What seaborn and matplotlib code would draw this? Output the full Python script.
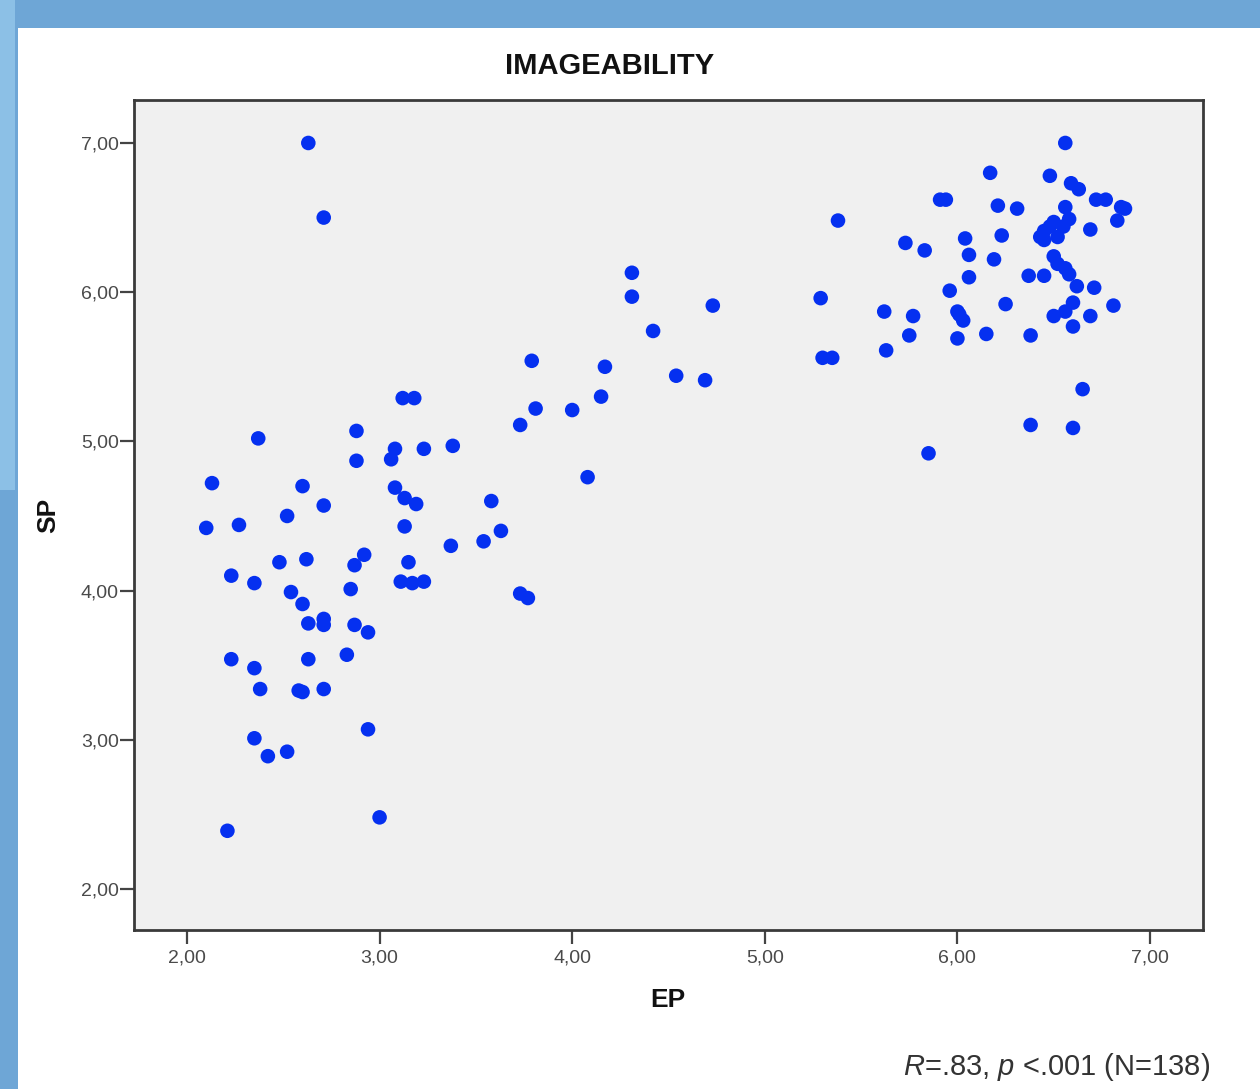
import matplotlib
matplotlib.use("Agg")
import matplotlib.pyplot as plt
import matplotlib.patches as mpatches
from matplotlib.ticker import FuncFormatter, FixedLocator
import seaborn as sns
import pandas as pd

# ---- data (EP, SP) ----
ep_left = [2.63, 2.71, 3.12, 3.18, 2.37, 2.88, 2.88, 3.08, 3.06, 3.23, 3.38, 2.13, 2.60, 2.71, 2.52,
           2.10, 2.27, 3.08, 3.13, 3.19, 3.13, 3.37, 3.58, 3.63, 3.54, 2.48, 2.62, 2.92, 2.87, 3.15,
           2.23, 2.35, 2.85, 3.11, 3.17, 3.23, 2.54, 2.60, 2.63, 2.71, 2.71, 2.87, 2.94, 2.23, 2.35,
           2.63, 2.83, 2.38, 2.58, 2.60, 2.71, 2.94, 2.35, 2.42, 2.52, 3.00, 2.21]
sp_left = [7.00, 6.50, 5.29, 5.29, 5.02, 5.07, 4.87, 4.95, 4.88, 4.95, 4.97, 4.72, 4.70, 4.57, 4.50,
           4.42, 4.44, 4.69, 4.62, 4.58, 4.43, 4.30, 4.60, 4.40, 4.33, 4.19, 4.21, 4.24, 4.17, 4.19,
           4.10, 4.05, 4.01, 4.06, 4.05, 4.06, 3.99, 3.91, 3.78, 3.81, 3.77, 3.77, 3.72, 3.54, 3.48,
           3.54, 3.57, 3.34, 3.33, 3.32, 3.34, 3.07, 3.01, 2.89, 2.92, 2.48, 2.39]

ep_mid = [4.31, 4.31, 4.73, 4.42, 3.79, 4.17, 4.54, 4.69, 3.81, 4.00, 4.15, 3.73, 4.08, 3.73, 3.77]
sp_mid = [6.13, 5.97, 5.91, 5.74, 5.54, 5.50, 5.44, 5.41, 5.22, 5.21, 5.30, 5.11, 4.76, 3.98, 3.95]

ep_right = [6.56, 6.17, 6.48, 6.59, 6.63, 5.91, 5.94, 6.21, 6.31, 6.56, 6.72, 6.77, 6.85, 6.87, 6.83,
            5.38, 6.58, 6.50, 6.48, 6.45, 6.43, 6.45, 6.52, 6.55, 6.69, 6.04, 6.23, 5.73, 5.83, 6.06,
            6.19, 6.50, 6.52, 6.56, 6.58, 6.62, 6.37, 6.45, 6.06, 6.71, 5.96, 5.29, 6.25, 6.60, 6.56,
            6.50, 6.81, 6.69, 6.60, 5.62, 5.77, 6.00, 6.01, 6.03, 6.15, 6.38, 5.75, 6.00, 5.63, 5.30,
            5.35, 6.65, 6.38, 6.60, 5.85]
sp_right = [7.00, 6.80, 6.78, 6.73, 6.69, 6.62, 6.62, 6.58, 6.56, 6.57, 6.62, 6.62, 6.57, 6.56, 6.48,
            6.48, 6.49, 6.47, 6.44, 6.41, 6.37, 6.35, 6.37, 6.44, 6.42, 6.36, 6.38, 6.33, 6.28, 6.25,
            6.22, 6.24, 6.19, 6.16, 6.12, 6.04, 6.11, 6.11, 6.10, 6.03, 6.01, 5.96, 5.92, 5.93, 5.87,
            5.84, 5.91, 5.84, 5.77, 5.87, 5.84, 5.87, 5.85, 5.81, 5.72, 5.71, 5.71, 5.69, 5.61, 5.56,
            5.56, 5.35, 5.11, 5.09, 4.92]

x_ticks = [2, 3, 4, 5, 6, 7]
y_ticks = [2, 3, 4, 5, 6, 7]
title = "IMAGEABILITY"
x_label = "EP"
y_label = "SP"
note = r"$\it{R}$=.83, $\it{p}$ <.001 (N=138)"

df = pd.DataFrame({"EP": ep_left + ep_mid + ep_right,
                   "SP": sp_left + sp_mid + sp_right})

# ---- figure ----
plt.rcParams["font.family"] = ["Liberation Sans", "DejaVu Sans"]
plt.rcParams["mathtext.fontset"] = "custom"
plt.rcParams["mathtext.it"] = "Liberation Sans:italic"
plt.rcParams["mathtext.rm"] = "Liberation Sans"

W, H = 1260, 1089
fig = plt.figure(figsize=(W / 100, H / 100), dpi=100)
fig.patch.set_facecolor("#6ea6d6")
# slide-like blue frame with white panel
fig.patches.append(mpatches.Rectangle((0, 0), 1, 1, transform=fig.transFigure,
                                      facecolor="#6ea6d6", edgecolor="none", zorder=0))
fig.patches.append(mpatches.Rectangle((0, 0.55), 0.012, 0.45, transform=fig.transFigure,
                                      facecolor="#8cc0e6", edgecolor="none", zorder=0.5))
fig.patches.append(mpatches.Rectangle((18 / W, 0), 1 - 18 / W, 1 - 28 / H, transform=fig.transFigure,
                                      facecolor="white", edgecolor="none", zorder=1))

ax = fig.add_axes([134 / W, 1 - 930 / H, (1203 - 134) / W, (930 - 100) / H])
ax.set_zorder(2)
ax.set_facecolor("#f0f0f0")

sns.scatterplot(data=df, x="EP", y="SP", ax=ax, color="#0530f0", s=110,
                edgecolor="none", linewidth=0, legend=False)

ax.set_xlim(1.725, 7.275)
ax.set_ylim(1.725, 7.288)
ax.xaxis.set_major_locator(FixedLocator(x_ticks))
ax.yaxis.set_major_locator(FixedLocator(y_ticks))
fmt = FuncFormatter(lambda v, p: f"{v:.2f}".replace(".", ","))
ax.xaxis.set_major_formatter(fmt)
ax.yaxis.set_major_formatter(fmt)
ax.tick_params(axis="both", direction="out", length=10, width=1.6, color="#444444",
               labelsize=14, labelcolor="#4a4a4a", pad=1)
ax.tick_params(axis="x", pad=4)
for sp in ax.spines.values():
    sp.set_color("#3a3a3a")
    sp.set_linewidth(2)

ax.set_xlabel("")
ax.set_ylabel("")
fig.text(668 / W, 1 - 1000 / H, x_label, ha="center", va="center",
         fontsize=19, fontweight="bold", color="#111111", zorder=3)
fig.text(48 / W, 1 - 515 / H, y_label, ha="center", va="center", rotation=90,
         fontsize=19, fontweight="bold", color="#111111", zorder=3)
fig.text(610 / W, 1 - 66 / H, title, ha="center", va="center",
         fontsize=21, fontweight="bold", color="#111111", zorder=3)
fig.text(1210 / W, 1 - 1067 / H, note, ha="right", va="center",
         fontsize=21, color="#333333", zorder=3)

fig.savefig("out.png", dpi=100, facecolor=fig.get_facecolor())
